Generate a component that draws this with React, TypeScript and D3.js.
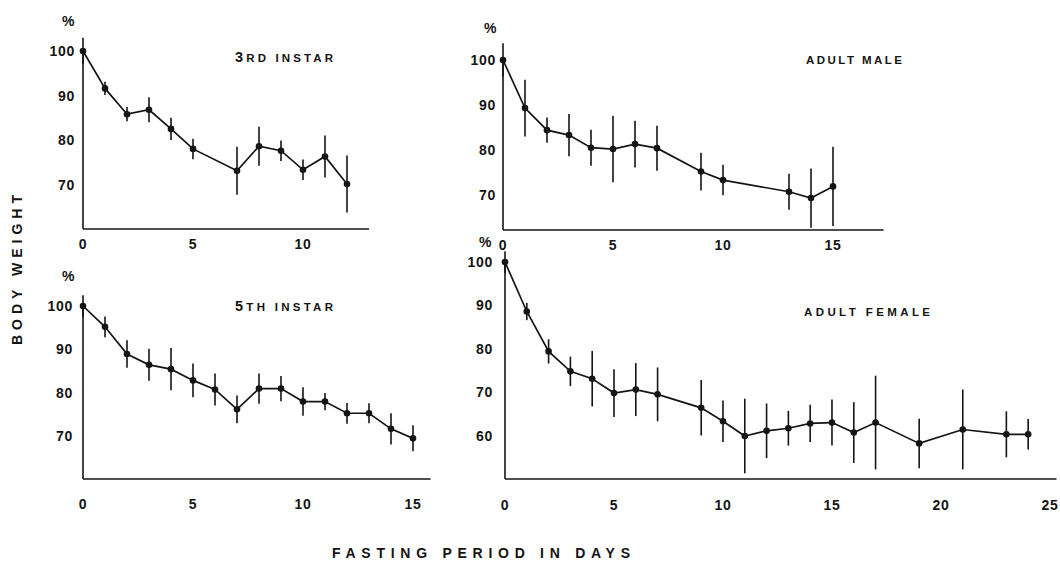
import React from 'react'
import * as d3 from 'd3'

// 3rd instar
const instar3Days = [0, 1, 2, 3, 4, 5, 7, 8, 9, 10, 11, 12]
const instar3Mean = [100, 91.6, 85.8, 86.8, 82.5, 78, 73.1, 78.6, 77.6, 73.3, 76.3, 70.1]
const instar3Err = [3, 1.5, 1.6, 2.8, 2.5, 2.3, 5.4, 4.4, 2.3, 2.3, 4.7, 6.4]

// adult male
const maleDays = [0, 1, 2, 3, 4, 5, 6, 7, 9, 10, 13, 14, 15]
const maleMean = [100, 89.3, 84.4, 83.3, 80.5, 80.2, 81.3, 80.4, 75.2, 73.3, 70.7, 69.3, 71.9]
const maleErr = [3.7, 6.3, 2.8, 4.7, 4, 7.4, 5.2, 5, 4.2, 3.4, 4, 6.6, 8.8]

// 5th instar
const instar5Days = [0, 1, 2, 3, 4, 5, 6, 7, 8, 9, 10, 11, 12, 13, 14, 15]
const instar5Mean = [100, 95.2, 88.9, 86.4, 85.4, 82.8, 80.7, 76.1, 80.9, 80.9, 77.9, 77.9, 75.2, 75.2, 71.6, 69.4]
const instar5Err = [2.5, 2.4, 3.2, 3.7, 4.9, 3.9, 3.7, 3.2, 3.5, 2.9, 3.3, 2, 2.4, 2.3, 3.6, 3]

// adult female
const femaleDays = [0, 1, 2, 3, 4, 5, 6, 7, 9, 10, 11, 12, 13, 14, 15, 16, 17, 19, 21, 23, 24]
const femaleMean = [100, 88.6, 79.4, 74.8, 73.1, 69.8, 70.6, 69.5, 66.4, 63.3, 59.9, 61.1, 61.7, 62.8, 63, 60.7, 63, 58.2, 61.4, 60.3, 60.3]
const femaleErr = [2.5, 2, 2.8, 3.4, 6.4, 5.5, 6.1, 6.2, 6.4, 4.8, 8.6, 6.3, 4, 4.3, 5.3, 7, 10.8, 5.7, 9.2, 5.3, 3.5]

const yTicksA = [70, 80, 90, 100]
const yTicksB = [60, 70, 80, 90, 100]
const xTicks13 = [0, 5, 10]
const xTicks15 = [0, 5, 10, 15]
const xTicks25 = [0, 5, 10, 15, 20, 25]

const INK = '#141414'
const FONT = '"Liberation Sans", Arial, Helvetica, sans-serif'

const panels = [
  {
    days: instar3Days, mean: instar3Mean, err: instar3Err,
    xMax: 13, yMin: 60, left: 83, right: 369, top: 51, bottom: 229,
    yTicks: yTicksA, xTicks: xTicks13, yPad: 8, xPad: 20,
    pct: [62, 26], title: ['3', 'RD INSTAR'], titleAt: [235, 62], titleLen: 98,
  },
  {
    days: maleDays, mean: maleMean, err: maleErr,
    xMax: 17.3, yMin: 62.2, left: 503, right: 883.6, top: 60, bottom: 230,
    yTicks: yTicksA, xTicks: xTicks15, yPad: 7, xPad: 20,
    pct: [484, 33], title: ['', 'ADULT  MALE'], titleAt: [806, 64], titleLen: 96,
  },
  {
    days: instar5Days, mean: instar5Mean, err: instar5Err,
    xMax: 15.8, yMin: 60, left: 83, right: 430.6, top: 306, bottom: 479,
    yTicks: yTicksA, xTicks: xTicks15, yPad: 10, xPad: 30,
    pct: [62, 281], title: ['5', 'TH INSTAR'], titleAt: [235, 311], titleLen: 98,
  },
  {
    days: femaleDays, mean: femaleMean, err: femaleErr,
    xMax: 25.3, yMin: 50, left: 505, right: 1056.5, top: 262, bottom: 479,
    yTicks: yTicksB, xTicks: xTicks25, yPad: 12, xPad: 31,
    pct: [479, 247], title: ['', 'ADULT FEMALE'], titleAt: [804, 316], titleLen: 126,
  },
]

function Panel({ p }: { p: any }) {
  const x = d3.scaleLinear().domain([0, p.xMax]).range([p.left, p.right])
  const y = d3.scaleLinear().domain([p.yMin, 100]).range([p.bottom, p.top])
  const pts = p.days.map((d: number, i: number) => ({ d, m: p.mean[i], e: p.err[i] }))
  const line = d3.line<any>().x(v => x(v.d)).y(v => y(v.m))

  return (
    <g fontFamily={FONT} fill={INK}>
      {/* axes */}
      <line x1={x(0)} x2={x(0)} y1={y(p.yMin)} y2={y(100)} stroke={INK} strokeWidth={1.6} />
      <line x1={x(0)} x2={x(p.xMax)} y1={y(p.yMin)} y2={y(p.yMin)} stroke={INK} strokeWidth={1.6} />
      {p.yTicks.map((t: number) => (
        <text key={'y' + t} x={x(0) - p.yPad} y={y(t)} dy="0.36em" textAnchor="end"
          fontSize={14} fontWeight="bold" letterSpacing={0.7}>{t}</text>
      ))}
      {p.xTicks.map((t: number) => (
        <text key={'x' + t} x={x(t)} y={y(p.yMin) + p.xPad} textAnchor="middle"
          fontSize={14} fontWeight="bold" letterSpacing={0.7}>{t}</text>
      ))}
      <text x={p.pct[0]} y={p.pct[1]} fontSize={14} fontWeight="bold">%</text>

      {/* panel title */}
      <text x={p.titleAt[0]} y={p.titleAt[1]} fontWeight="bold" textLength={p.titleLen}
        lengthAdjust="spacing">
        {p.title[0] && <tspan fontSize={14.5}>{p.title[0]}</tspan>}
        <tspan fontSize={11.5}>{p.title[1]}</tspan>
      </text>

      {/* error bars */}
      {pts.map((v: any) => (
        <line key={'e' + v.d} x1={x(v.d)} x2={x(v.d)} y1={y(v.m - v.e)} y2={y(v.m + v.e)}
          stroke={INK} strokeWidth={1.6} />
      ))}
      <path d={line(pts) || ''} fill="none" stroke={INK} strokeWidth={1.7} />
      {pts.map((v: any) => (
        <circle key={'c' + v.d} cx={x(v.d)} cy={y(v.m)} r={3.3} fill={INK} />
      ))}
    </g>
  )
}

export default function App() {
  return (
    <svg width={1060} height={562} style={{ position: 'absolute', left: 0, top: 0, background: '#fff' }}>
      <rect width={1060} height={562} fill="#fff" />
      {panels.map((p, i) => <Panel key={i} p={p} />)}
      <text transform="translate(22,270) rotate(-90)" textAnchor="middle" fontFamily={FONT}
        fontWeight="bold" fontSize={14} fill={INK} textLength={150} lengthAdjust="spacing">
        BODY WEIGHT
      </text>
      <text x={332} y={558} fontFamily={FONT} fontWeight="bold" fontSize={14} fill={INK}
        textLength={298} lengthAdjust="spacing">
        FASTING PERIOD IN DAYS
      </text>
    </svg>
  )
}
